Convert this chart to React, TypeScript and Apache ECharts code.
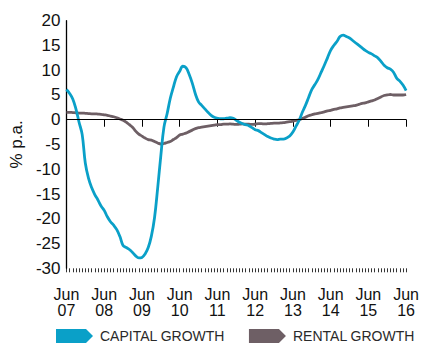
import React, { useEffect, useRef } from "react";
import * as echarts from "echarts";

const capitalGrowth = [
  6.1, 5.3, 4.2, 2.2, -0.5, -3.0, -8.8, -11.8, -13.7, -15.1,
  -16.2, -17.4, -18.3, -19.6, -20.6, -21.3, -22.2, -23.6, -25.4, -25.8,
  -26.2, -26.8, -27.5, -27.9, -27.8, -27.1, -25.8, -23.5, -19.8, -13.8,
  -7.3, -1.5, 1.2, 4.3, 6.6, 8.7, 9.8, 10.8, 10.5, 9.2,
  7.4, 5.2, 3.6, 2.9, 2.2, 1.5, 0.9, 0.5, 0.3, 0.2,
  0.2, 0.3, 0.4, 0.3, -0.1, -0.5, -0.8, -1.0, -1.2, -1.6,
  -2.0, -2.2, -2.6, -3.0, -3.4, -3.7, -3.9, -4.0, -3.9, -3.9,
  -3.7, -3.3, -2.5, -1.3, -0.1, 1.5, 2.9, 4.5, 6.1, 7.1,
  8.2, 9.6, 11.0, 12.5, 14.0, 15.0, 15.8, 16.8, 17.1, 16.8,
  16.5, 16.0, 15.5, 15.0, 14.5, 14.0, 13.6, 13.3, 12.9, 12.5,
  11.8, 11.0, 10.5, 10.2, 9.6, 8.4, 7.8, 7.0, 5.9,
];

const rentalGrowth = [
  1.5, 1.5, 1.45, 1.4, 1.35, 1.35, 1.3, 1.25, 1.2, 1.2,
  1.15, 1.1, 1.0, 0.9, 0.75, 0.6, 0.4, 0.15, -0.1, -0.5,
  -1.0, -1.5, -2.3, -2.9, -3.3, -3.7, -4.0, -4.1, -4.4, -4.7,
  -4.9, -4.8, -4.6, -4.4, -4.0, -3.6, -3.1, -2.9, -2.7, -2.4,
  -2.1, -1.8, -1.6, -1.5, -1.4, -1.3, -1.2, -1.1, -1.0, -1.0,
  -0.9, -0.9, -0.85, -0.9, -0.95, -0.9, -0.85, -0.9, -0.9, -0.95,
  -0.9, -0.8, -0.8, -0.85, -0.8, -0.75, -0.7, -0.7, -0.65, -0.6,
  -0.5, -0.4, -0.3, -0.15, 0.0, 0.25, 0.5, 0.8, 1.0, 1.2,
  1.3, 1.45, 1.6, 1.8, 1.9, 2.1, 2.2, 2.4, 2.5, 2.6,
  2.7, 2.8, 2.9, 3.1, 3.3, 3.4, 3.6, 3.8, 4.0, 4.3,
  4.6, 4.9, 5.0, 5.1, 5.0, 5.0, 5.0, 5.0, 5.1,
];

const xTickLabels = [
  "Jun\n07", "Jun\n08", "Jun\n09", "Jun\n10", "Jun\n11",
  "Jun\n12", "Jun\n13", "Jun\n14", "Jun\n15", "Jun\n16",
];

const seriesNames = ["CAPITAL GROWTH", "RENTAL GROWTH"];
const FONT = "'Liberation Sans', Arial, sans-serif";
const arrowIcon = "path://M0,0 L30,0 L37,7 L30,14 L0,14 Z";

export default function App() {
  const ref = useRef<HTMLDivElement>(null);
  useEffect(() => {
    if (!ref.current) return;
    const chart = echarts.init(ref.current, undefined, { renderer: "svg" });
    const toPairs = (arr: number[]) => arr.map((v, i) => [i, v]);
    chart.setOption({
      animation: false,
      backgroundColor: "#ffffff",
      grid: { left: 65, right: 12, top: 20.7, bottom: 76.7, containLabel: false },
      legend: {
        left: 56,
        top: 329,
        itemWidth: 37,
        itemHeight: 14,
        itemGap: 24,
        padding: 0,
        selectedMode: false,
        data: [
          { name: seriesNames[0], icon: arrowIcon },
          { name: seriesNames[1], icon: arrowIcon },
        ],
        textStyle: { fontFamily: FONT, fontSize: 14, color: "#2a2a2a", padding: [0, 0, 0, 2] },
      },
      xAxis: [
        {
          type: "value",
          min: 0,
          max: 108,
          interval: 12,
          axisLine: { show: true, lineStyle: { color: "#000", width: 1 } },
          axisTick: { show: true, length: 7, lineStyle: { color: "#000", width: 1 } },
          splitLine: { show: false },
          axisLabel: {
            show: true,
            showMinLabel: true,
            showMaxLabel: true,
            margin: 18,
            fontFamily: FONT,
            fontSize: 16,
            lineHeight: 16,
            color: "#111",
            formatter: (v: number) => xTickLabels[Math.round(v / 12)] ?? "",
          },
        },
        {
          type: "value",
          position: "bottom",
          min: 0,
          max: 108,
          interval: 1,
          axisLine: { show: false },
          axisTick: { show: true, length: 4, lineStyle: { color: "#000", width: 0.8 } },
          splitLine: { show: false },
          axisLabel: { show: false },
        },
      ],
      yAxis: {
        type: "value",
        min: -30,
        max: 20,
        interval: 5,
        name: "% p.a.",
        nameLocation: "middle",
        nameRotate: 90,
        nameGap: 40,
        nameTextStyle: { fontFamily: FONT, fontSize: 17, color: "#111" },
        axisLine: { show: true, lineStyle: { color: "#000", width: 1.3 } },
        axisTick: { show: false },
        splitLine: { show: false },
        axisLabel: { fontFamily: FONT, fontSize: 17, color: "#111", margin: 6 },
      },
      series: [
        {
          name: seriesNames[0],
          type: "line",
          data: toPairs(capitalGrowth),
          showSymbol: false,
          smooth: 0.4,
          color: "#0aa0c8",
          lineStyle: { color: "#0aa0c8", width: 2.8 },
          z: 3,
          markLine: {
            silent: true,
            symbol: "none",
            label: { show: false },
            lineStyle: { color: "#000", width: 1, type: "solid" },
            data: [{ yAxis: 0 }],
          },
        },
        {
          name: seriesNames[1],
          type: "line",
          data: toPairs(rentalGrowth),
          showSymbol: false,
          smooth: 0.4,
          color: "#6e5f65",
          lineStyle: { color: "#6e5f65", width: 2.8 },
          z: 2,
        },
      ],
    });
    return () => chart.dispose();
  }, []);
  return (
    <div style={{ position: "absolute", left: 0, top: 0, width: 422, height: 345 }}>
      <div ref={ref} style={{ width: 422, height: 345 }} />
    </div>
  );
}
